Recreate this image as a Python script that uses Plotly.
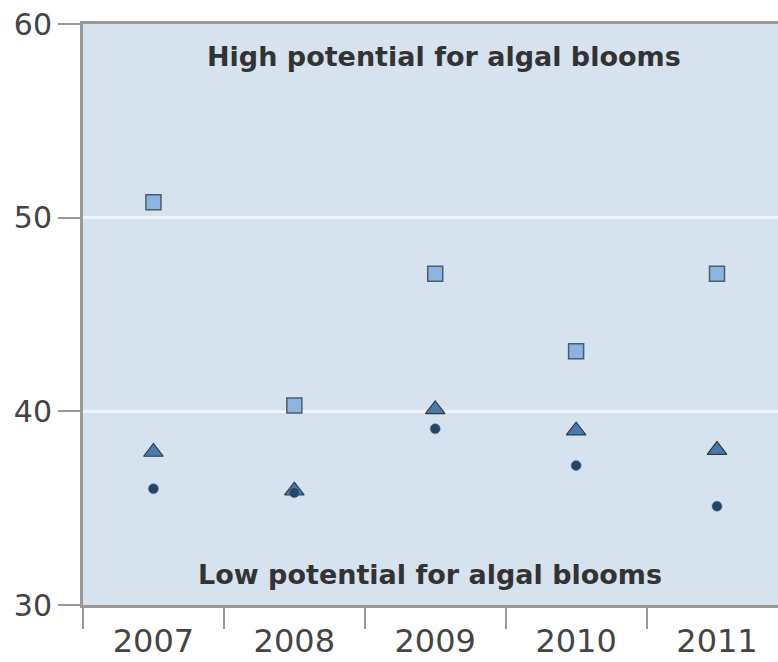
import plotly.graph_objects as go

years = ["2007", "2008", "2009", "2010", "2011"]
squares = [50.8, 40.3, 47.1, 43.1, 47.1]
triangles = [37.9, 35.9, 40.1, 39.0, 38.0]
circles = [36.0, 35.8, 39.1, 37.2, 35.1]
y_ticks = [30, 40, 50, 60]
high_label = "High potential for algal blooms"
low_label = "Low potential for algal blooms"

FONT = "DejaVu Sans"
idx = list(range(len(years)))

fig = go.Figure()
fig.add_trace(go.Scatter(
    x=idx, y=squares, mode="markers",
    marker=dict(symbol="square", size=15, color="#8cb4e0",
                line=dict(color="#4d5c6b", width=1.5)),
    showlegend=False, hoverinfo="x+y"))
fig.add_trace(go.Scatter(
    x=idx, y=triangles, mode="markers",
    marker=dict(symbol="triangle-up", size=17, color="#4b79a9",
                line=dict(color="#2b3b4b", width=1.2)),
    showlegend=False, hoverinfo="x+y"))
fig.add_trace(go.Scatter(
    x=idx, y=circles, mode="markers",
    marker=dict(symbol="circle", size=10, color="#20466a",
                line=dict(color="#5a7a99", width=0.6)),
    showlegend=False, hoverinfo="x+y"))

fig.add_annotation(text="<b>%s</b>" % high_label, xref="paper", yref="y",
                   x=0.519, y=58.3, showarrow=False,
                   font=dict(family=FONT, size=27, color="#333333"))
fig.add_annotation(text="<b>%s</b>" % low_label, xref="paper", yref="y",
                   x=0.499, y=31.6, showarrow=False,
                   font=dict(family=FONT, size=27, color="#333333"))

fig.update_layout(
    width=778, height=662,
    margin=dict(l=83, r=0, t=24, b=57),
    paper_bgcolor="white",
    plot_bgcolor="#d6e2ee",
    font=dict(family=FONT, color="#444444"),
)
fig.update_xaxes(
    automargin=False,
    range=[-0.5, 4.433],
    tickmode="array", tickvals=idx, ticktext=years,
    showgrid=False, zeroline=False,
    showline=True, linecolor="#999999", linewidth=3, mirror=True,
    ticks="", ticklabelstandoff=6,
    minor=dict(tick0=-0.5, dtick=1, ticks="outside", ticklen=21,
               tickwidth=2, tickcolor="#999999", showgrid=False),
    tickfont=dict(family=FONT, size=32, color="#444444"),
)
fig.update_yaxes(
    automargin=False,
    range=[30, 60], tickvals=y_ticks,
    showgrid=True, gridcolor="#f2f6fa", gridwidth=2.5, zeroline=False,
    showline=True, linecolor="#999999", linewidth=3,
    ticks="outside", ticklen=22, tickwidth=2, tickcolor="#999999",
    tickfont=dict(family=FONT, size=30, color="#444444"),
)

fig.write_html("out.html", config={"displayModeBar": False},
               post_script="document.body.style.margin='0';document.body.style.padding='0';")
